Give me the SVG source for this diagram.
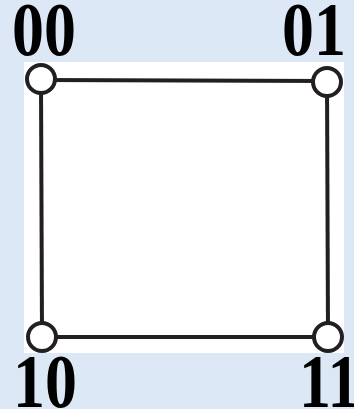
<svg xmlns="http://www.w3.org/2000/svg" width="354" height="409" viewBox="0 0 354 409">
<style>
.lbl{font-family:"Liberation Serif","Times New Roman",serif;font-weight:bold;font-size:64px;fill:#000}
.edge{stroke:#231f20;stroke-width:4;fill:none}
.node{fill:#fff;stroke:#231f20;stroke-width:4}
</style>
<rect x="0" y="0" width="354" height="409" fill="#dce8f5"/>
<rect x="24" y="62" width="320" height="291" fill="#fff"/>
<g id="connectors">
<line class="edge" x1="41" y1="80" x2="327" y2="81"/>
<line class="edge" x1="41" y1="80" x2="42" y2="337"/>
<line class="edge" x1="327" y1="81" x2="328" y2="337"/>
<line class="edge" x1="42" y1="337" x2="328" y2="337"/>
</g>
<g id="n00"><circle class="node" cx="41" cy="79" r="14"/><text class="lbl" transform="translate(12,55) scale(1,1.18)">00</text></g>
<g id="n01"><circle class="node" cx="327" cy="82" r="14"/><text class="lbl" transform="translate(282,55) scale(1,1.18)">01</text></g>
<g id="n10"><circle class="node" cx="42" cy="337" r="14"/><text class="lbl" transform="translate(13,407) scale(1,1.18)">10</text></g>
<g id="n11"><circle class="node" cx="328" cy="337" r="14"/><text class="lbl" transform="translate(299,407) scale(1,1.18)">11</text></g>
</svg>
